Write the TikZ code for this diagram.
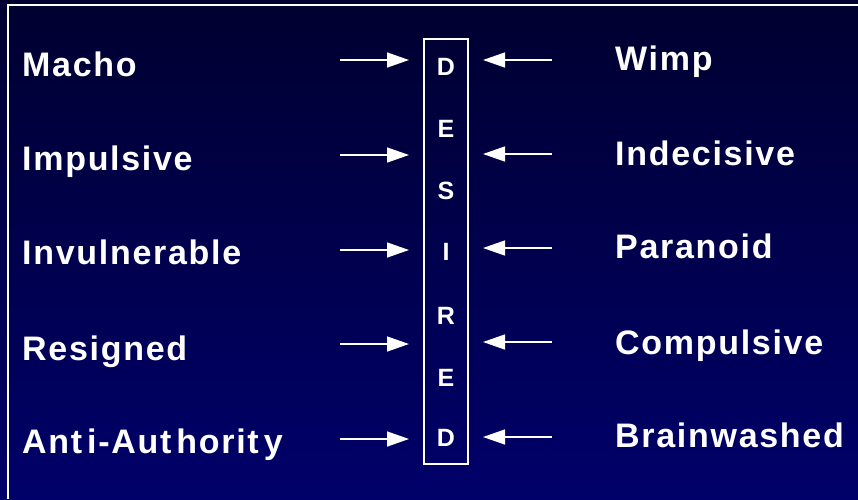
\documentclass[tikz,border=0pt]{standalone}
\usepackage{fontspec}
\setmainfont{Liberation Sans}[LetterSpace=5]
\usetikzlibrary{arrows.meta}
\definecolor{navytop}{RGB}{0,0,48}
\definecolor{navybottom}{RGB}{0,0,106}
\tikzset{
  word/.style={anchor=base west, text=white, inner sep=0pt, font=\fontsize{34}{40}\selectfont\bfseries},
  letter/.style={text=white, inner sep=0pt, font=\fontsize{25}{30}\selectfont\bfseries},
  push/.style={draw=white, line width=1.4pt, -{Triangle[length=22pt,width=15pt]}}
}
\begin{document}
\begin{tikzpicture}[x=1pt,y=-1pt]
            \useasboundingbox (0,0) rectangle (858,499);
            \shade [top color=navytop, bottom color=navybottom] (0,0) rectangle (858,499);
            \draw [white, line width=1.6pt] (8,499) -- (8,5) -- (858,5);
            % the box in the middle
            \node [draw=white, line width=1.3pt, minimum width=44pt, minimum height=425pt, inner sep=0pt] (desired) at (446,251.5) {};
            \node [letter] (d1) at (446,67) {D};
            \node [letter] (e1) at (446,129) {E};
            \node [letter] (s) at (446,191) {S};
            \node [letter] (i) at (446,252) {I};
            \node [letter] (r) at (446,316) {R};
            \node [letter] (e2) at (446,378) {E};
            \node [letter] (d2) at (446,438) {D};
            % left side
            \node [word] (macho) at (22,76) {Macho};
            \node [word] (impulsive) at (22,170) {Impulsive};
            \node [word] (invulnerable) at (22,264) {Invulnerable};
            \node [word] (resigned) at (22,360) {Resigned};
            \node [word] (anti) at (22,453) {Ant\kern5pt i-Aut\kern5pt horit\kern5pt y};
            % right side
            \node [word] (wimp) at (615,70) {Wimp};
            \node [word] (indecisive) at (615,165) {Indecisive};
            \node [word] (paranoid) at (615,258) {Paranoid};
            \node [word] (compulsive) at (615,354) {Compulsive};
            \node [word] (brainwashed) at (615,447) {Brainwashed};
            % arrows
            \coordinate (la1) at (340,60);  \coordinate (lb1) at (409,60);
            \coordinate (la2) at (340,155); \coordinate (lb2) at (409,155);
            \coordinate (la3) at (340,250); \coordinate (lb3) at (409,250);
            \coordinate (la4) at (340,344); \coordinate (lb4) at (409,344);
            \coordinate (la5) at (340,439); \coordinate (lb5) at (409,439);
            \coordinate (ra1) at (552,60);  \coordinate (rb1) at (483,60);
            \coordinate (ra2) at (552,154); \coordinate (rb2) at (483,154);
            \coordinate (ra3) at (552,248); \coordinate (rb3) at (483,248);
            \coordinate (ra4) at (552,342); \coordinate (rb4) at (483,342);
            \coordinate (ra5) at (552,437); \coordinate (rb5) at (483,437);
            \draw [push] (la1) -- (lb1);
            \draw [push] (la2) -- (lb2);
            \draw [push] (la3) -- (lb3);
            \draw [push] (la4) -- (lb4);
            \draw [push] (la5) -- (lb5);
            \draw [push] (ra1) -- (rb1);
            \draw [push] (ra2) -- (rb2);
            \draw [push] (ra3) -- (rb3);
            \draw [push] (ra4) -- (rb4);
            \draw [push] (ra5) -- (rb5);
        \end{tikzpicture}
\end{document}
